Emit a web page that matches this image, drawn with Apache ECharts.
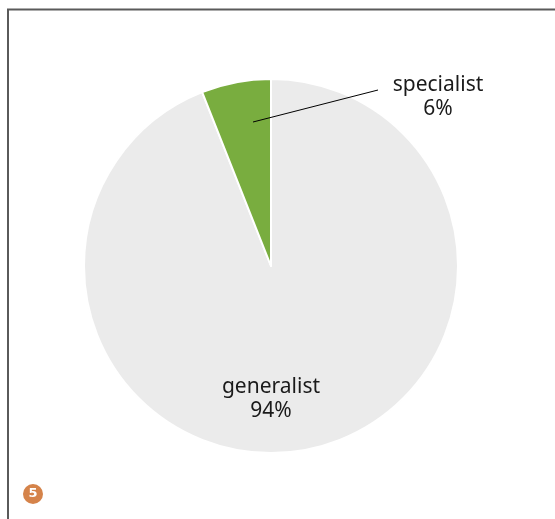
<!DOCTYPE html>
<html><head><meta charset="utf-8">
<script src="https://cdn.jsdelivr.net/npm/echarts@6/dist/echarts.min.js"></script>
<style>html,body{margin:0;padding:0;background:#fff}#c{width:555px;height:519px}</style>
</head><body><div id="c"></div>
<script>
var categories = ['generalist', 'specialist'];
var values = [94, 6];
var colors = ['#EBEBEB', '#79AD3F'];
var badgeText = '5';

var chart = echarts.init(document.getElementById('c'), null, {renderer: 'canvas'});
var cx = 271, cy = 266, R = 187;
chart.setOption({
  animation: false,
  backgroundColor: '#ffffff',
  graphic: [
    {type: 'polyline', shape: {points: [[8, 530], [8, 9.5], [570, 9.5]]}, style: {stroke: '#5a5a5a', lineWidth: 2, fill: null}, z: 10},
    {type: 'line', shape: {x1: 253, y1: 122, x2: 378, y2: 90}, style: {stroke: '#000', lineWidth: 1}, z: 10},
    {type: 'circle', shape: {cx: 33, cy: 494, r: 10}, style: {fill: '#D5834A'}, z: 10},
    {type: 'text', x: 33, y: 494, style: {text: badgeText, fill: '#fff', font: 'bold 13px "DejaVu Sans"', align: 'center', verticalAlign: 'middle'}, z: 11}
  ],
  series: [{
    type: 'pie',
    center: [cx, cy],
    radius: R,
    startAngle: 90,
    clockwise: true,
    data: categories.map(function (c, i) {
      return {name: c, value: values[i], itemStyle: {color: colors[i]}};
    }),
    itemStyle: {borderColor: '#ffffff', borderWidth: 2},
    label: {
      show: true,
      position: 'outside',
      formatter: '{b}\n{d}%',
      color: '#1a1a1a',
      fontFamily: 'Noto Sans',
      fontSize: 21,
      lineHeight: 24,
      align: 'center'
    },
    labelLine: {show: false},
    emphasis: {disabled: true},
    labelLayout: function (p) {
      if (p.dataIndex === 0) {
        return {x: cx, y: cy + 133, align: 'center', verticalAlign: 'middle'};
      }
      return {x: 438, y: 97, align: 'center', verticalAlign: 'middle'};
    }
  }]
});
</script></body></html>
